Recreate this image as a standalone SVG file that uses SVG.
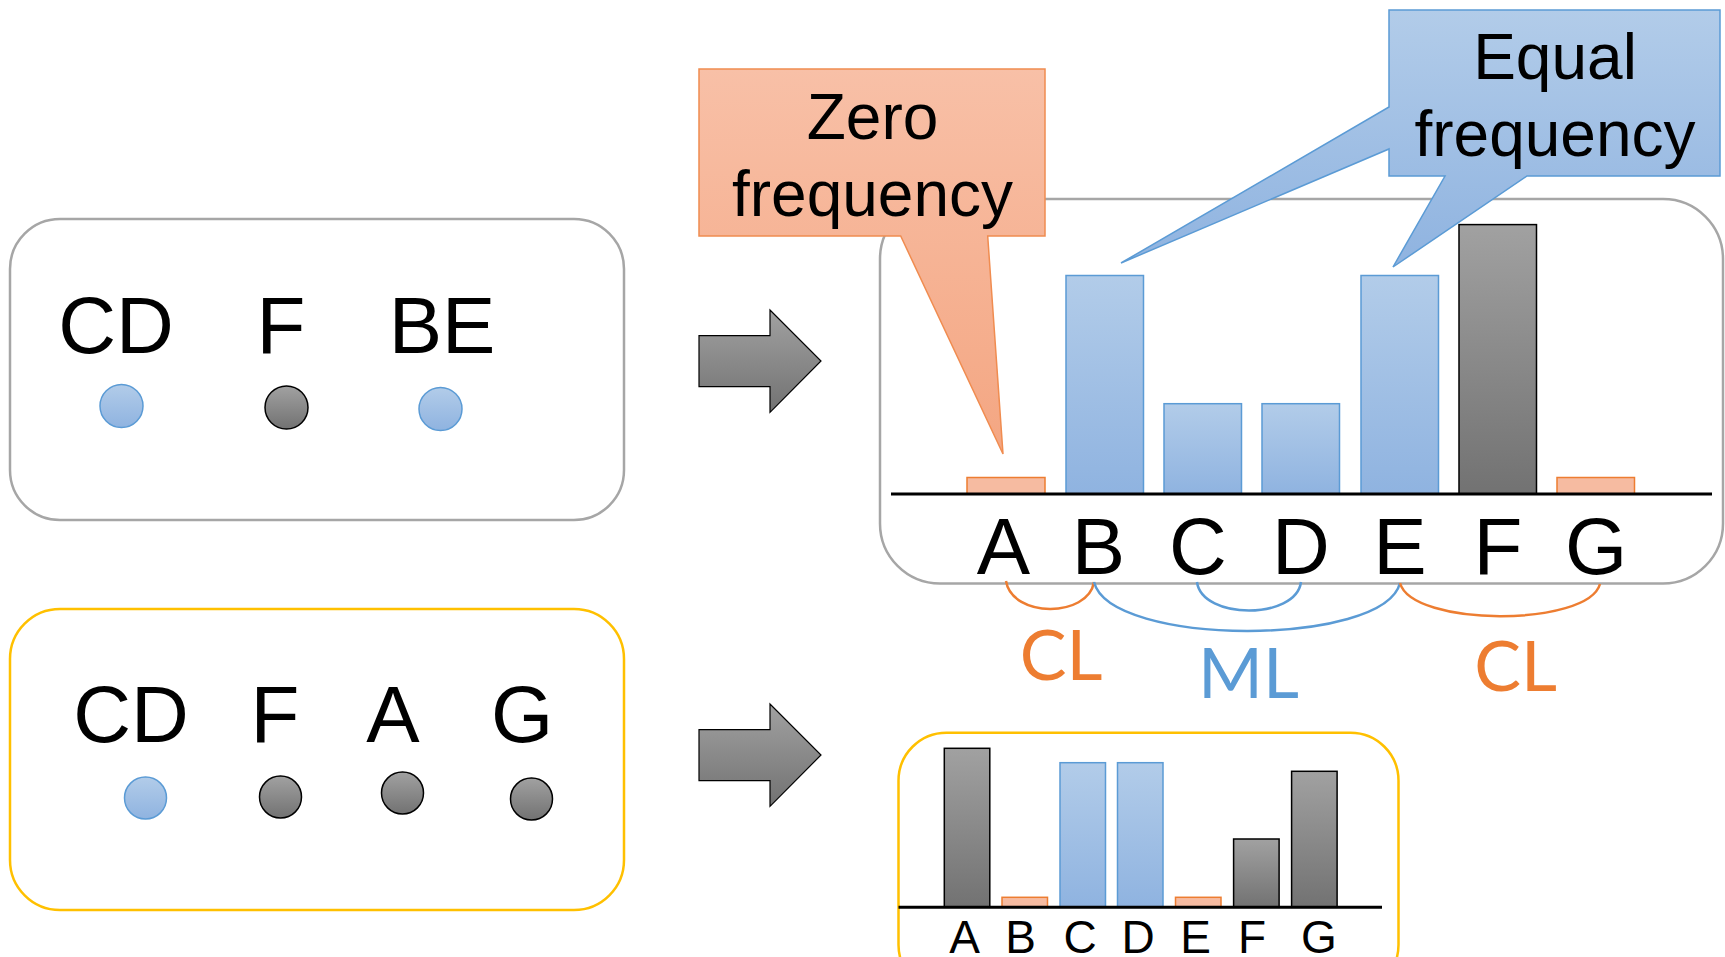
<svg xmlns="http://www.w3.org/2000/svg" width="1725" height="957" viewBox="0 0 1725 957">
  <defs>
    <linearGradient id="gBlue" x1="0" y1="0" x2="0" y2="1">
      <stop offset="0" stop-color="#b2cce9"/>
      <stop offset="1" stop-color="#8fb3e0"/>
    </linearGradient>
    <linearGradient id="gGray" x1="0" y1="0" x2="0" y2="1">
      <stop offset="0" stop-color="#a1a1a1"/>
      <stop offset="1" stop-color="#727272"/>
    </linearGradient>
    <linearGradient id="gSalmon" x1="0" y1="0" x2="0" y2="1">
      <stop offset="0" stop-color="#f8c0a7"/>
      <stop offset="1" stop-color="#f4a682"/>
    </linearGradient>
    <style>
      .frame-gray { fill: #ffffff; stroke: #a6a6a6; stroke-width: 2.5; }
      .frame-gold { fill: #ffffff; stroke: #ffc000; stroke-width: 2.5; }
      .big { font-family: "Liberation Sans", Arial, sans-serif; font-size: 80px; fill: #000; text-anchor: middle; }
      .small { font-family: "Liberation Sans", Arial, sans-serif; font-size: 46px; fill: #000; text-anchor: middle; }
      .call { font-family: "Liberation Sans", Arial, sans-serif; font-size: 64px; fill: #000; text-anchor: middle; }
      .tag { font-family: Lato, "Open Sans", sans-serif; font-size: 70px; text-anchor: middle; }
      .dot-blue { fill: url(#gBlue); stroke: #5b9bd5; stroke-width: 1.5; }
      .dot-gray { fill: url(#gGray); stroke: #000; stroke-width: 1.5; }
      .bar-blue { fill: url(#gBlue); stroke: #5b9bd5; stroke-width: 1.5; }
      .bar-gray { fill: url(#gGray); stroke: #000; stroke-width: 1.5; }
      .bar-zero { fill: #f6bba1; stroke: #ed7d31; stroke-width: 1.5; }
      .axis { stroke: #000; stroke-width: 3; }
      .block { fill: url(#gGray); stroke: #000; stroke-width: 1.2; }
      .arc { fill: none; stroke-width: 2.5; }
    </style>
  </defs>

  <!-- input set 1 -->
  <g id="set-top">
    <rect class="frame-gray" x="10" y="219" width="614" height="301" rx="50"/>
    <text class="big" x="116" y="353">CD</text>
    <text class="big" x="281" y="353">F</text>
    <text class="big" x="442" y="353">BE</text>
    <circle class="dot-blue" cx="121.5" cy="406" r="21.5"/>
    <circle class="dot-gray" cx="286.5" cy="407.5" r="21.5"/>
    <circle class="dot-blue" cx="440.5" cy="409" r="21.5"/>
  </g>

  <!-- input set 2 -->
  <g id="set-bottom">
    <rect class="frame-gold" x="10" y="609" width="614" height="301" rx="50"/>
    <text class="big" x="131" y="742">CD</text>
    <text class="big" x="275" y="742">F</text>
    <text class="big" x="393" y="742">A</text>
    <text class="big" x="522" y="742">G</text>
    <circle class="dot-blue" cx="145.5" cy="798" r="21"/>
    <circle class="dot-gray" cx="280.5" cy="797" r="21"/>
    <circle class="dot-gray" cx="402.5" cy="793" r="21"/>
    <circle class="dot-gray" cx="531.5" cy="799" r="21"/>
  </g>

  <!-- histogram for set 1 -->
  <g id="hist-top">
    <rect class="frame-gray" x="880" y="199" width="843" height="384.5" rx="60"/>
    <rect class="bar-zero" x="967" y="477.5" width="78" height="16.5"/>
    <rect class="bar-blue" x="1066" y="275.5" width="77.5" height="218.5"/>
    <rect class="bar-blue" x="1164" y="403.7" width="77.5" height="90.3"/>
    <rect class="bar-blue" x="1262" y="403.7" width="77.5" height="90.3"/>
    <rect class="bar-blue" x="1361" y="275.5" width="77.5" height="218.5"/>
    <rect class="bar-gray" x="1459" y="224.6" width="77.5" height="269.4"/>
    <rect class="bar-zero" x="1557" y="477.5" width="77.5" height="16.5"/>
    <line class="axis" x1="891" y1="494" x2="1712" y2="494"/>
    <text class="big" x="1003.5" y="574">A</text>
    <text class="big" x="1098.5" y="574">B</text>
    <text class="big" x="1198" y="574">C</text>
    <text class="big" x="1301" y="574">D</text>
    <text class="big" x="1400" y="574">E</text>
    <text class="big" x="1498" y="574">F</text>
    <text class="big" x="1596" y="574">G</text>
  </g>

  <!-- histogram for set 2 -->
  <g id="hist-bottom">
    <rect class="frame-gold" x="898.5" y="732.7" width="500" height="260" rx="48"/>
    <rect class="bar-gray" x="944.3" y="748.3" width="45.5" height="159"/>
    <rect class="bar-zero" x="1002" y="897.3" width="45.5" height="10"/>
    <rect class="bar-blue" x="1060" y="762.7" width="45.5" height="144.6"/>
    <rect class="bar-blue" x="1117.5" y="762.7" width="45.5" height="144.6"/>
    <rect class="bar-zero" x="1175.5" y="897.3" width="45.5" height="10"/>
    <rect class="bar-gray" x="1233.6" y="839" width="45.5" height="68.3"/>
    <rect class="bar-gray" x="1291.6" y="771.3" width="45.5" height="136"/>
    <line class="axis" x1="898.5" y1="907.3" x2="1382" y2="907.3"/>
    <text class="small" x="964.5" y="953">A</text>
    <text class="small" x="1020.7" y="953">B</text>
    <text class="small" x="1080" y="953">C</text>
    <text class="small" x="1138" y="953">D</text>
    <text class="small" x="1195.6" y="953">E</text>
    <text class="small" x="1252" y="953">F</text>
    <text class="small" x="1319" y="953">G</text>
  </g>

  <!-- callouts -->
  <g id="callout-zero">
    <path d="M699,69 H1045 V236 H987.7 L1003,454 L900.7,236 H699 Z" fill="url(#gSalmon)" stroke="#f08c50" stroke-width="1.5"/>
    <text class="call" x="872.5" y="139">Zero</text>
    <text class="call" x="872.5" y="215.7">frequency</text>
  </g>
  <g id="callout-equal">
    <path d="M1389,10 H1720 V176 H1527 L1393,267 L1445,176 H1389 V149 L1121,263 L1389,107 Z" fill="url(#gBlue)" stroke="#5b9bd5" stroke-width="1.5"/>
    <text class="call" x="1555" y="79">Equal</text>
    <text class="call" x="1555" y="155.8">frequency</text>
  </g>

  <!-- link labels -->
  <g id="labels">
    <text class="tag" x="1061" y="680" fill="#ed7d31">CL</text>
    <text class="tag" x="1248.5" y="698" fill="#5b9bd5">ML</text>
    <text class="tag" x="1515.5" y="691" fill="#ed7d31">CL</text>
  </g>

  <g id="connectors">
    <path class="block" d="M699,335.7 H770 V310 L821,361 L770,412.3 V386.7 H699 Z"/>
    <path class="block" d="M699,729.7 H770 V704 L821,755 L770,806.3 V780.7 H699 Z"/>
    <path class="arc" stroke="#ed7d31" d="M1006,581 C1012,618 1088,618 1094,582"/>
    <path class="arc" stroke="#5b9bd5" d="M1094,582 C1110,647 1384,647 1400,583"/>
    <path class="arc" stroke="#5b9bd5" d="M1197,582 C1202,620 1296,620 1301,582"/>
    <path class="arc" stroke="#ed7d31" d="M1400,583 C1412,627 1588,627 1600,584"/>
  </g>
</svg>
